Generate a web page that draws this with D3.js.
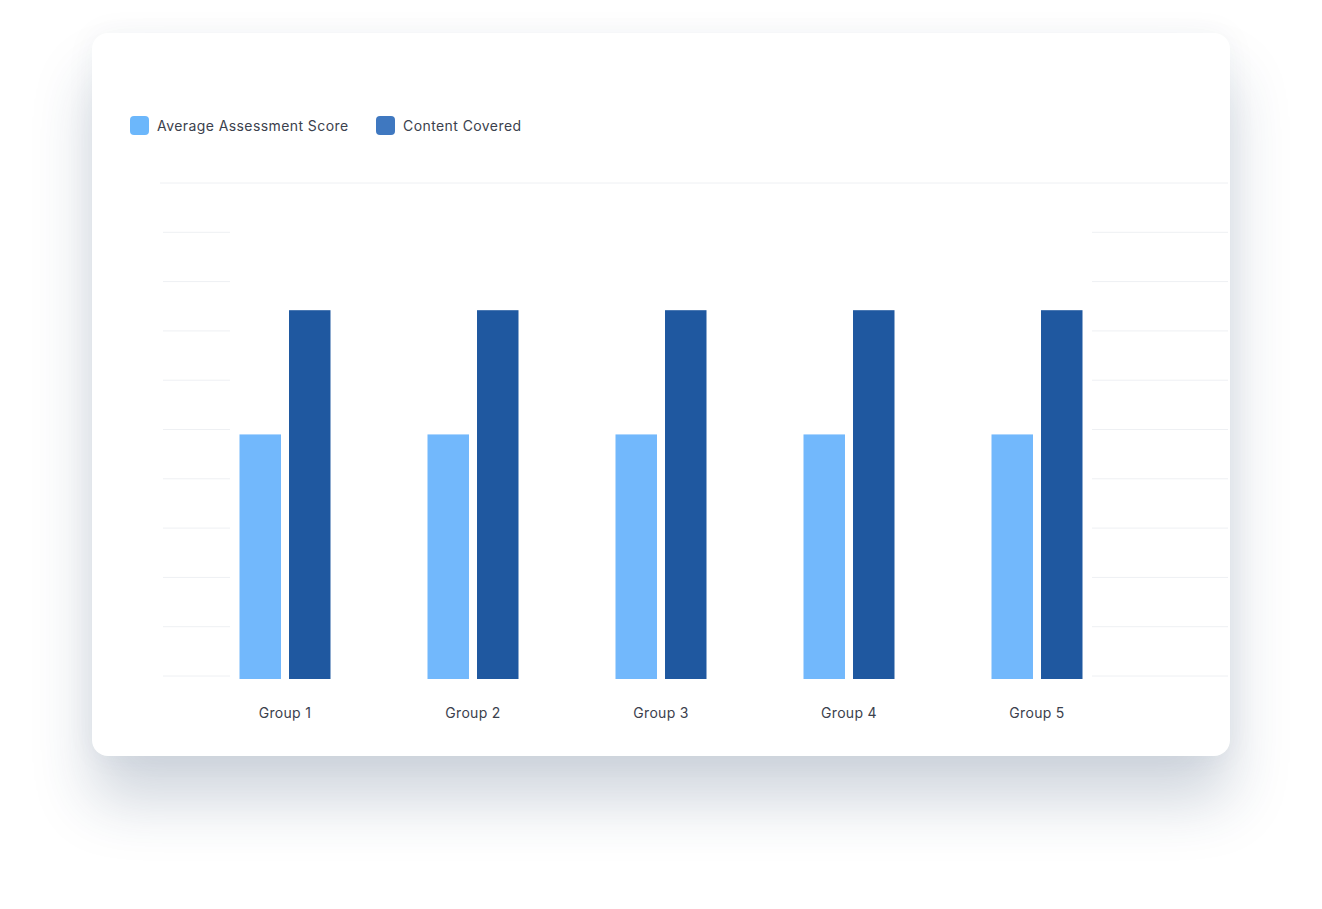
<!DOCTYPE html>
<html>
<head>
<meta charset="utf-8">
<script src="https://cdn.jsdelivr.net/npm/d3@7"></script>
<style>
  html, body { margin: 0; padding: 0; background: #ffffff; width: 1322px; height: 909px; overflow: hidden; }
  #card { position: absolute; left: 92px; top: 33px; width: 1138px; height: 723px; background: #fff; border-radius: 16px;
          box-shadow: 0 45px 60px rgba(35, 60, 100, 0.21), 0 0 30px rgba(35,60,100,0.05); }
  svg { position: absolute; left: 0; top: 0; }
  text { font-family: "Inter", "Open Sans", sans-serif; }
</style>
</head>
<body>
<div id="card"></div>
<svg id="chart" width="1322" height="909"></svg>
<script>
const groups = ["Group 1", "Group 2", "Group 3", "Group 4", "Group 5"];
const seriesNames = ["Average Assessment Score", "Content Covered"];
const avgScore = [49, 49, 49, 49, 49];
const contentCovered = [74.2, 74.2, 74.2, 74.2, 74.2];
const yTicks = [0, 10, 20, 30, 40, 50, 60, 70, 80, 90, 100];
const barColors = ["#72b8fc", "#1f58a0"];
const legendColors = ["#6cb7fb", "#3f78c0"];

const svg = d3.select("#chart");

const y = d3.scaleLinear().domain([0, 100]).range([676, 183]);
const x0 = d3.scaleBand().domain(groups).range([191, 1131]).paddingInner(0).paddingOuter(0);
const x1 = d3.scaleBand().domain(seriesNames).range([-45.5, 45.5]).paddingInner(0.162).paddingOuter(0);

// gridlines
const grid = svg.append("g").attr("class", "grid");
yTicks.forEach(t => {
  const segs = t === 100 ? [[160, 1228]] : [[163, 230], [1092, 1228]];
  segs.forEach(s => {
    grid.append("line")
      .attr("x1", s[0]).attr("x2", s[1])
      .attr("y1", y(t)).attr("y2", y(t))
      .attr("stroke", "#eef0f3").attr("stroke-width", 1);
  });
});

// bars
const rows = groups.map((g, i) => ({ group: g, values: [avgScore[i], contentCovered[i]] }));
const gg = svg.append("g").selectAll("g").data(rows).join("g")
  .attr("transform", d => `translate(${x0(d.group) + x0.bandwidth() / 2},0)`);
gg.selectAll("rect").data(d => d.values.map((v, k) => ({ key: seriesNames[k], v, k })))
  .join("rect")
  .attr("x", d => x1(d.key))
  .attr("width", x1.bandwidth())
  .attr("y", d => y(d.v))
  .attr("height", d => y(0) + 3 - y(d.v))
  .attr("fill", d => barColors[d.k]);

// x labels
const xAxis = d3.axisBottom(x0).tickSize(0).tickPadding(0);
const xa = svg.append("g").attr("transform", "translate(0,718)").call(xAxis);
xa.select(".domain").remove();
xa.selectAll("text")
  .attr("dy", 0)
  .attr("font-size", 14)
  .attr("fill", "#3b414d")
  .style("letter-spacing", "0.3px")
  .style("font-family", "Inter, 'Open Sans', sans-serif");

// legend
const legendX = [130, 376];
const lg = svg.append("g").selectAll("g").data(seriesNames).join("g")
  .attr("transform", (d, i) => `translate(${legendX[i]},116)`);
lg.append("rect").attr("width", 19).attr("height", 19).attr("rx", 4)
  .attr("fill", (d, i) => legendColors[i]);
lg.append("text").attr("x", 27).attr("y", 14.5)
  .attr("font-size", 14).attr("fill", "#3b414d")
  .style("letter-spacing", "0.42px")
  .text(d => d);
</script>
</body>
</html>
